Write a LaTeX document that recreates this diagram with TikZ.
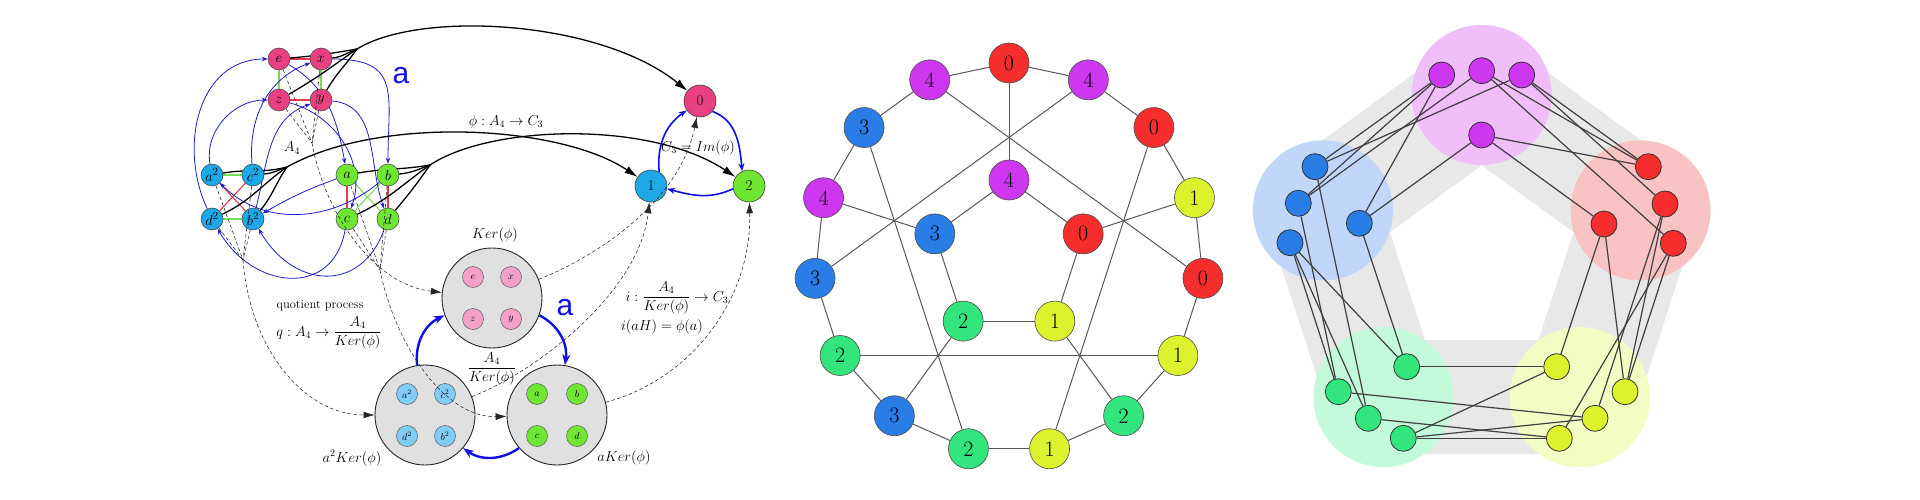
\documentclass[tikz,border=0pt]{standalone}
\usepackage{fontspec}
\newfontfamily\sanslabel{Liberation Sans}
\usetikzlibrary{arrows.meta,calc}
\pgfdeclarelayer{bgzero}
\pgfdeclarelayer{bgone}
\pgfsetlayers{bgzero,bgone,main}
\definecolor{lpink}{RGB}{232,64,128}
\definecolor{lblue}{RGB}{30,168,232}
\definecolor{lgreen}{RGB}{110,230,50}
\definecolor{ipink}{RGB}{244,160,200}
\definecolor{iblue}{RGB}{130,205,245}
\definecolor{cosetgray}{RGB}{224,224,224}
\definecolor{actblue}{RGB}{30,30,200}
\definecolor{tblue}{RGB}{15,15,230}
\definecolor{egreen}{RGB}{120,220,90}
\definecolor{ered}{RGB}{225,60,80}
\definecolor{epink}{RGB}{230,80,140}
\definecolor{cr}{RGB}{245,45,45}
\definecolor{cm}{RGB}{205,55,240}
\definecolor{cb}{RGB}{40,125,230}
\definecolor{cg}{RGB}{50,230,125}
\definecolor{cy}{RGB}{220,242,45}
\definecolor{pm}{RGB}{240,190,250}
\definecolor{pb}{RGB}{192,215,250}
\definecolor{pr}{RGB}{250,195,195}
\definecolor{pg}{RGB}{195,250,218}
\definecolor{py}{RGB}{242,252,195}
\definecolor{bandgray}{RGB}{232,232,232}
\begin{document}
\begin{tikzpicture}[x=1pt,y=1pt,
  lnode/.style={circle,draw=black!75,line width=0.5pt,minimum size=22pt,inner sep=0pt,font=\fontsize{15}{15}\selectfont},
  cnode/.style={circle,draw=black!75,line width=0.6pt,minimum size=32pt,inner sep=0pt,font=\fontsize{15}{15}\selectfont},
  inode/.style={circle,draw=black!65,line width=0.5pt,minimum size=21pt,inner sep=0pt,font=\fontsize{10}{10}\selectfont},
  coset/.style={circle,draw=black!85,line width=0.9pt,fill=cosetgray,minimum size=100pt,inner sep=0pt},
  act/.style={draw=actblue,line width=0.8pt,-{Stealth[length=6pt,width=4.5pt]}},
  bact/.style={draw=tblue,line width=2.4pt,-{Stealth[length=11pt,width=8pt]}},
  mact/.style={draw=tblue,line width=1.6pt,-{Stealth[length=8pt,width=6pt]}},
  blk/.style={draw=black,line width=1.3pt},
  blka/.style={blk,-{Latex[length=13pt,width=8pt]}},
  dshl/.style={draw=black!85,line width=0.55pt,dash pattern=on 3.5pt off 2.5pt},
  dsha/.style={dshl,-{Latex[length=11pt,width=7pt]}},
  gedge/.style={draw=egreen,line width=1.1pt},
  redge/.style={draw=ered,line width=1.1pt},
  pedge/.style={draw=epink,line width=1.3pt},
  lbl/.style={font=\fontsize{12.5}{14}\selectfont,inner sep=1pt},
  mlbl/.style={font=\fontsize{14}{16}\selectfont,inner sep=1pt},
  mnode/.style={circle,draw=black!70,line width=0.6pt,minimum size=40pt,inner sep=0pt,font=\fontsize{22}{22}\selectfont},
  medge/.style={draw=black!65,line width=1pt},
  rnode/.style={circle,draw=black!80,line width=0.8pt,minimum size=26pt,inner sep=0pt},
  rline/.style={draw=black!75,line width=1.2pt},
  cluster/.style={circle,minimum size=140pt,inner sep=0pt,draw=none}
]
\useasboundingbox (0,0) rectangle (1920,-500);
\begin{pgfonlayer}{bgzero}
\fill[white] (0,0) rectangle (1920,-500);
\end{pgfonlayer}

% ================= LEFT DIAGRAM =================
\node[lnode,fill=lpink] (e) at (279,-59) {$e$};
\node[lnode,fill=lpink] (x) at (321,-59) {$x$};
\node[lnode,fill=lpink] (z) at (279,-100) {$z$};
\node[lnode,fill=lpink] (y) at (321,-100) {$y$};
\node[lnode,fill=lblue] (a2) at (212,-175) {$a^2$};
\node[lnode,fill=lblue] (c2) at (253,-175) {$c^2$};
\node[lnode,fill=lblue] (d2) at (212,-219) {$d^2$};
\node[lnode,fill=lblue] (b2) at (253,-219) {$b^2$};
\node[lnode,fill=lgreen] (a) at (347,-175) {$a$};
\node[lnode,fill=lgreen] (b) at (388,-175) {$b$};
\node[lnode,fill=lgreen] (c) at (347,-219) {$c$};
\node[lnode,fill=lgreen] (d) at (388,-219) {$d$};

\node[cnode,fill=lpink] (n0) at (700,-101) {0};
\node[cnode,fill=lblue] (n1) at (651,-186) {1};
\node[cnode,fill=lgreen] (n2) at (749,-186) {2};

\node[coset] (K) at (492,-298) {};
\node[coset] (A2K) at (425,-415) {};
\node[coset] (AK) at (557,-415) {};

\node[inode,fill=ipink] (ke) at (473,-277) {$e$};
\node[inode,fill=ipink] (kx) at (511,-277) {$x$};
\node[inode,fill=ipink] (kz) at (473,-319) {$z$};
\node[inode,fill=ipink] (ky) at (511,-319) {$y$};
\node[inode,fill=iblue] (qa2) at (407,-394) {$a^2$};
\node[inode,fill=iblue] (qc2) at (445,-394) {$c^2$};
\node[inode,fill=iblue] (qd2) at (407,-436) {$d^2$};
\node[inode,fill=iblue] (qb2) at (445,-436) {$b^2$};
\node[inode,fill=lgreen] (pa) at (537,-394) {$a$};
\node[inode,fill=lgreen] (pb) at (577,-394) {$b$};
\node[inode,fill=lgreen] (pc) at (537,-436) {$c$};
\node[inode,fill=lgreen] (pd) at (577,-436) {$d$};

\coordinate (cR) at (357,-49);
\coordinate (cB) at (287,-167);
\coordinate (cG) at (430,-165);
\coordinate (dR) at (312,-143);
\coordinate (dG) at (380,-270);
\coordinate (dB) at (243,-260);

\begin{pgfonlayer}{bgone}
% edges inside groups
\draw[redge] (e) -- (x); \draw[redge] (z) -- (y);
\draw[gedge] (e) -- (z); \draw[gedge] (x) -- (y);
\draw[gedge] (a2) -- (c2); \draw[gedge] (d2) -- (b2);
\draw[redge] (a2) -- (b2); \draw[redge] (c2) -- (d2);
\draw[redge] (a) -- (c); \draw[redge] (b) -- (d);
\draw[gedge] (a) -- (d); \draw[gedge] (b) -- (c);
% action of a
\draw[act] (d2) to[out=115,in=180,looseness=1.1] (e);
\draw[act] (c2) to[out=95,in=200] (x);
\draw[act] (a2) to[out=100,in=180] (z);
\draw[act] (b2) to[out=75,in=200] (y);
\draw[act] (e) to[out=-30,in=100] (a);
\draw[act] (x) to[out=0,in=90,looseness=1.5] (b);
\draw[act] (z) to[out=-15,in=70] (c);
\draw[act] (y) to[out=-5,in=110] (d);
\draw[act] (a) to[out=200,in=30] (b2);
\draw[act] (b) to[out=220,in=-45] (a2);
\draw[act] (c) to[out=-100,in=-60,looseness=1.4] (d2);
\draw[act] (d) to[out=-110,in=-60,looseness=1.4] (b2);
% bundles
\draw[blk] (e) to[out=5,in=190] (cR);
\draw[blk] (x) to[out=5,in=200] (cR);
\draw[blk] (z) to[out=30,in=215] (cR);
\draw[blk] (y) to[out=60,in=235] (cR);
\draw[blk] (a2) to[out=10,in=195] (cB);
\draw[blk] (c2) to[out=5,in=200] (cB);
\draw[blk] (d2) to[out=25,in=215] (cB);
\draw[blk] (b2) to[out=50,in=235] (cB);
\draw[blk] (a) to[out=10,in=190] (cG);
\draw[blk] (b) to[out=5,in=200] (cG);
\draw[blk] (c) to[out=25,in=215] (cG);
\draw[blk] (d) to[out=50,in=235] (cG);
% inner coset edges
\draw[pedge] (ke) -- (kx); \draw[pedge] (kz) -- (ky);
\draw[gedge] (ke) -- (kz); \draw[gedge] (kx) -- (ky);
\draw[gedge] (qa2) -- (qc2); \draw[gedge] (qd2) -- (qb2);
\draw[pedge] (qa2) -- (qb2); \draw[pedge] (qc2) -- (qd2);
\draw[pedge] (pa) -- (pc); \draw[pedge] (pb) -- (pd);
\draw[gedge] (pa) -- (pd); \draw[gedge] (pb) -- (pc);
\end{pgfonlayer}

% long black arrows
\draw[blka] (cR) .. controls (420,-10) and (600,-20) .. (n0);
\draw[blka] (cB) .. controls (380,-115) and (560,-125) .. (n1);
\draw[blka] (cG) .. controls (490,-125) and (650,-120) .. (n2);
% C3 cycle
\draw[mact] (n1.60) to[out=95,in=215] (n0);
\draw[mact] (n0.-40) to[out=-20,in=95] (n2.115);
\draw[mact] (n2.190) to[out=205,in=-15] (n1.-10);
% coset cycle
\draw[bact] (A2K.99) to[bend left=35] (K.200);
\draw[bact] (K.-20) to[bend left=35] (AK.81);
\draw[bact] (AK.221) to[bend left=35] (A2K.-41);

% dashed maps
\foreach \n in {e,x,z,y} \draw[dshl] (\n) -- (dR);
\draw[dsha] (dR) .. controls (325,-215) and (375,-285) .. (K);
\foreach \n in {a,b,c,d} \draw[dshl] (\n) -- (dG);
\draw[dsha] (dG) .. controls (395,-345) and (445,-418) .. (AK);
\foreach \n in {a2,c2,d2,b2} \draw[dshl] (\n) -- (dB);
\draw[dsha] (dB) .. controls (250,-350) and (305,-415) .. (A2K);
\draw[dsha] (K) .. controls (600,-255) and (680,-200) .. (n0);
\draw[dsha] (A2K) .. controls (540,-370) and (640,-290) .. (n1);
\draw[dsha] (AK) .. controls (690,-380) and (752,-300) .. (n2);

% labels
\node[text=tblue,font=\sanslabel\fontsize{30}{30}\selectfont] (la1) at (401,-76) {a};
\node[text=tblue,font=\sanslabel\fontsize{30}{30}\selectfont] (la2) at (565,-308) {a};
\node[mlbl] (lA4) at (292,-148) {$A_4$};
\node[mlbl] (lphi) at (506,-122) {$\phi : A_4 \rightarrow C_3$};
\node[mlbl] (lC3) at (698,-148) {$C_3 = Im(\phi)$};
\node[mlbl] (lK) at (495,-235) {$Ker(\phi)$};
\node[mlbl] (lA2K) at (352,-458) {$a^2Ker(\phi)$};
\node[mlbl] (lAK) at (624,-458) {$aKer(\phi)$};
\node[mlbl] (lfrac) at (492,-369) {$\displaystyle\frac{A_4}{Ker(\phi)}$};
\node[lbl] (lqp) at (320,-306) {quotient process};
\node[mlbl] (lq) at (329,-333) {$q : A_4 \rightarrow \displaystyle\frac{A_4}{Ker(\phi)}$};
\node[mlbl] (li) at (677,-298) {$i : \displaystyle\frac{A_4}{Ker(\phi)} \rightarrow C_3$};
\node[mlbl] (lih) at (662,-327) {$i(aH) = \phi(a)$};

% ================= MIDDLE GRAPH =================
\coordinate (mc) at (1009,-258);
\foreach \k/\lab/\col in {0/0/cr,1/4/cm,2/0/cr,3/1/cy,4/0/cr,5/1/cy,6/2/cg,7/1/cy,8/2/cg,9/3/cb,10/2/cg,11/3/cb,12/4/cm,13/3/cb,14/4/cm}
  \node[mnode,fill=\col] (o\k) at ($(mc)+({90-24*\k}:195)$) {\lab};
\foreach \k/\lab/\col/\ang in {0/4/cm/90,1/0/cr/18,2/1/cy/-54,3/2/cg/-126,4/3/cb/162}
  \node[mnode,fill=\col] (i\k) at ($(mc)+(\ang:78)$) {\lab};
\begin{pgfonlayer}{bgone}
\foreach \k [evaluate=\k as \nk using {int(mod(\k+1,15))}] in {0,...,14}
  \draw[medge] (o\k) -- (o\nk);
\foreach \k [evaluate=\k as \nk using {int(mod(\k+1,5))}] in {0,...,4}
  \draw[medge] (i\k) -- (i\nk);
\draw[medge] (i0) -- (o0); \draw[medge] (i1) -- (o3); \draw[medge] (i2) -- (o6);
\draw[medge] (i3) -- (o9); \draw[medge] (i4) -- (o12);
\draw[medge] (o1) -- (o11); \draw[medge] (o4) -- (o14); \draw[medge] (o7) -- (o2);
\draw[medge] (o10) -- (o5); \draw[medge] (o13) -- (o8);
\end{pgfonlayer}

% ================= RIGHT GRAPH =================
\coordinate (rc) at (1481.7,-262);
\coordinate (PM) at ($(rc)+(90:167)$);
\coordinate (PB) at ($(rc)+(162:167)$);
\coordinate (PG) at ($(rc)+(234:167)$);
\coordinate (PY) at ($(rc)+(306:167)$);
\coordinate (PR) at ($(rc)+(18:167)$);
\begin{pgfonlayer}{bgzero}
\draw[bandgray,line width=114pt,line join=round] (PM) -- (PB) -- (PG) -- (PY) -- (PR) -- cycle;
\node[cluster,fill=pm] (CM) at (PM) {};
\node[cluster,fill=pb] (CB) at (PB) {};
\node[cluster,fill=pg] (CG) at (PG) {};
\node[cluster,fill=py] (CY) at (PY) {};
\node[cluster,fill=pr] (CR) at (PR) {};
\end{pgfonlayer}
\node[rnode,fill=cm] (M1) at (1441.7,-75) {};
\node[rnode,fill=cm] (M2) at (1481.7,-70.7) {};
\node[rnode,fill=cm] (M3) at (1521.7,-75) {};
\node[rnode,fill=cm] (Mi) at (1481.7,-135) {};
\node[rnode,fill=cb] (B1) at (1315,-166.7) {};
\node[rnode,fill=cb] (B2) at (1298.3,-203.3) {};
\node[rnode,fill=cb] (B3) at (1290,-242.7) {};
\node[rnode,fill=cb] (Bi) at (1359.3,-223.3) {};
\node[rnode,fill=cr] (R1) at (1648.3,-166.7) {};
\node[rnode,fill=cr] (R2) at (1665,-204) {};
\node[rnode,fill=cr] (R3) at (1673.3,-243.3) {};
\node[rnode,fill=cr] (Ri) at (1604,-224) {};
\node[rnode,fill=cg] (G1) at (1338.3,-391.7) {};
\node[rnode,fill=cg] (G2) at (1368.3,-418.3) {};
\node[rnode,fill=cg] (G3) at (1403.3,-438.3) {};
\node[rnode,fill=cg] (Gi) at (1406.7,-366.7) {};
\node[rnode,fill=cy] (Y1) at (1625,-391.7) {};
\node[rnode,fill=cy] (Y2) at (1595,-418.3) {};
\node[rnode,fill=cy] (Y3) at (1559.3,-438.3) {};
\node[rnode,fill=cy] (Yi) at (1556.7,-366.7) {};
\begin{pgfonlayer}{bgone}
\foreach \u/\v in {Mi/Ri,Ri/Yi,Yi/Gi,Gi/Bi,Bi/Mi,Mi/R1,Ri/Y1,Yi/G3,Gi/B3,Bi/M1,
  M1/B1,M1/B2,M2/R1,M2/B2,M2/R3,M3/R1,M3/B1,M3/R2,B1/G2,B2/G1,B3/G1,B3/G2,
  G1/Y2,G2/Y3,G3/Y2,G3/Y3,Y1/R2,Y1/R3,Y2/R2,Y3/R3}
  \draw[rline] (\u) -- (\v);
\end{pgfonlayer}
\end{tikzpicture}
\end{document}
